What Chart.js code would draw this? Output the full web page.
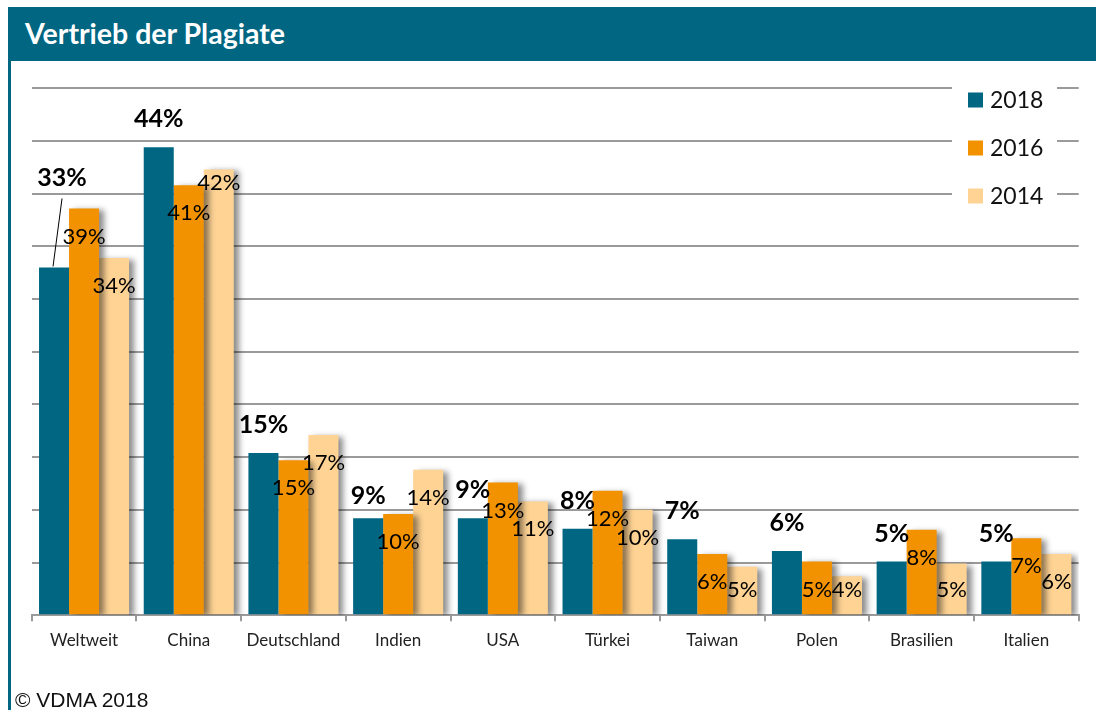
<!DOCTYPE html>
<html>
<head>
<meta charset="utf-8">
<script src="https://cdn.jsdelivr.net/npm/chart.js@4.4.1/dist/chart.umd.min.js"></script>
<style>
  body { margin: 0; background: #fff; }
  #wrap { position: relative; width: 1096px; height: 710px; overflow: hidden; }
  #myChart { position: absolute; left: 0; top: 0; }
  .titlebar {
    position: absolute; left: 8px; top: 7px; width: 1088px; height: 54px;
    background: #006682; color: #fff;
    font: bold 28.5px Lato, sans-serif; line-height: 52px;
    padding-left: 17px; box-sizing: border-box;
  }
  .leftline { position: absolute; left: 8px; top: 61px; width: 3px; height: 649px; background: #006682; }
  .source {
    position: absolute; left: 15px; top: 689px;
    font: 21px "Liberation Sans", Arial, sans-serif; line-height: 21px; color: #111;
  }
</style>
</head>
<body>
<div id="wrap">
  <canvas id="myChart" width="1096" height="710"></canvas>
  <div class="titlebar">Vertrieb der Plagiate</div>
  <div class="leftline"></div>
  <div class="source">© VDMA 2018</div>
</div>
<script>
const categories = ['Weltweit', 'China', 'Deutschland', 'Indien', 'USA', 'Türkei', 'Taiwan', 'Polen', 'Brasilien', 'Italien'];
const years = ['2018', '2016', '2014'];
const values2018 = [33.0, 44.4, 15.4, 9.2, 9.2, 8.2, 7.2, 6.1, 5.1, 5.1];
const values2016 = [38.6, 40.8, 14.7, 9.6, 12.6, 11.8, 5.8, 5.1, 8.1, 7.3];
const values2014 = [33.9, 42.3, 17.1, 13.8, 10.8, 10.0, 4.6, 3.7, 4.9, 5.8];
const colors = ['#006682', '#f39200', '#fed394'];

// a few labels sit somewhere else in the original
const labelNudge = {
    '0-0': { dx: 8, dy: -62, leader: true },
    '0-3': { dy: 6 },
    '2-1': { dy: -15 }
};

const barShadow = {
    id: 'barShadow',
    beforeDatasetDraw(chart, args) {
        if (args.index === 0) return;
        const ctx = chart.ctx;
        ctx.save();
        ctx.shadowColor = 'rgba(0,0,0,0.45)';
        ctx.shadowBlur = 6;
        ctx.shadowOffsetX = 5;
        ctx.shadowOffsetY = 2;
    },
    afterDatasetDraw(chart, args) {
        if (args.index === 0) return;
        chart.ctx.restore();
    }
};

const valueLabels = {
    id: 'valueLabels',
    afterDatasetsDraw(chart) {
        const ctx = chart.ctx;
        const base = chart.scales.y.getPixelForValue(0);
        ctx.save();
        ctx.fillStyle = '#000';
        ctx.textAlign = 'center';
        ctx.textBaseline = 'middle';
        chart.data.datasets.forEach((ds, i) => {
            const meta = chart.getDatasetMeta(i);
            meta.data.forEach((bar, j) => {
                const n = labelNudge[i + '-' + j] || {};
                const x = bar.x + (n.dx || 0);
                let y = i === 0 ? bar.y - 28 : Math.min(bar.y + 28, base - 25);
                y += n.dy || 0;
                ctx.font = i === 0 ? 'bold 25px Lato' : '22px Lato';
                ctx.fillText(Math.round(ds.data[j]) + '%', x, y);
                if (n.leader) {
                    ctx.strokeStyle = '#000';
                    ctx.lineWidth = 1;
                    ctx.beginPath();
                    ctx.moveTo(bar.x - 1, bar.y - 1);
                    ctx.lineTo(x, y + 21);
                    ctx.stroke();
                }
            });
        });
        ctx.restore();
    }
};

const sideLegend = {
    id: 'sideLegend',
    afterDraw(chart) {
        const ctx = chart.ctx;
        ctx.save();
        ctx.fillStyle = '#fff';
        ctx.fillRect(952, 78, 105, 140);
        ctx.font = '23px Lato';
        ctx.textAlign = 'left';
        ctx.textBaseline = 'middle';
        years.forEach((yr, i) => {
            const cy = 100 + i * 48;
            ctx.fillStyle = colors[i];
            ctx.fillRect(968, cy - 7.5, 15, 15);
            ctx.fillStyle = '#111';
            ctx.fillText(yr, 990, cy + 1);
        });
        ctx.restore();
    }
};

const ctx = document.getElementById('myChart').getContext('2d');

const myChart = new Chart(ctx, {
    type: 'bar',
    data: {
        labels: categories,
        datasets: [
            { label: years[0], data: values2018, backgroundColor: colors[0] },
            { label: years[1], data: values2016, backgroundColor: colors[1] },
            { label: years[2], data: values2014, backgroundColor: colors[2] }
        ]
    },
    options: {
        responsive: false,
        animation: false,
        categoryPercentage: 0.86,
        barPercentage: 1.0,
        layout: {
            padding: { left: 31.7, right: 17.3, top: 88.3, bottom: 50.4 }
        },
        plugins: {
            legend: { display: false },
            tooltip: { enabled: false }
        },
        scales: {
            x: {
                grid: {
                    drawOnChartArea: false,
                    drawTicks: true,
                    tickLength: 6,
                    color: '#9a9a9a',
                    lineWidth: 2,
                    offset: true
                },
                border: { display: true, color: '#9a9a9a', width: 2 },
                ticks: {
                    color: '#222',
                    padding: 9,
                    font: { family: 'Lato', size: 17 },
                    maxRotation: 0
                }
            },
            y: {
                min: 0,
                max: 50,
                afterFit: (scale) => { scale.width = 0; },
                grid: {
                    color: '#9a9a9a',
                    lineWidth: 2,
                    drawTicks: false
                },
                border: { display: false },
                ticks: {
                    display: false,
                    stepSize: 5
                }
            }
        }
    },
    plugins: [barShadow, valueLabels, sideLegend]
});
</script>
</body>
</html>
